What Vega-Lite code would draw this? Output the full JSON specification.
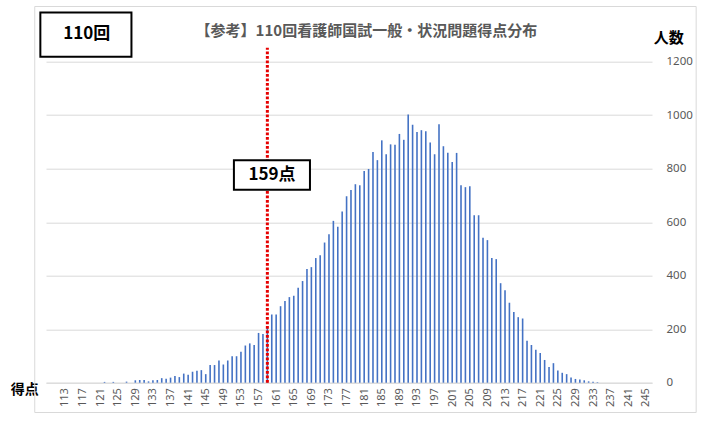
{
  "$schema": "https://vega.github.io/schema/vega-lite/v6.json",
  "width": 606,
  "height": 321,
  "autosize": "none",
  "padding": {"left": 46, "top": 61.7, "right": 63, "bottom": 41.3},
  "background": "white",
  "config": {
    "view": {"stroke": null},
    "font": "Noto Sans CJK JP",
    "axisX": {"labelOverlap": false, "labelFlush": false}
  },
  "data": {"values": [
    {"score":113,"count":0},{"score":114,"count":0},{"score":115,"count":0},{"score":116,"count":0},{"score":117,"count":0},
    {"score":118,"count":0},{"score":119,"count":0},{"score":120,"count":0},{"score":121,"count":0},{"score":122,"count":3},
    {"score":123,"count":0},{"score":124,"count":3},{"score":125,"count":0},{"score":126,"count":0},{"score":127,"count":4},
    {"score":128,"count":0},{"score":129,"count":9},{"score":130,"count":10},{"score":131,"count":10},{"score":132,"count":5},
    {"score":133,"count":9},{"score":134,"count":10},{"score":135,"count":17},{"score":136,"count":15},{"score":137,"count":19},
    {"score":138,"count":25},{"score":139,"count":21},{"score":140,"count":34},{"score":141,"count":30},{"score":142,"count":41},
    {"score":143,"count":45},{"score":144,"count":47},{"score":145,"count":32},{"score":146,"count":66},{"score":147,"count":66},
    {"score":148,"count":83},{"score":149,"count":68},{"score":150,"count":83},{"score":151,"count":99},{"score":152,"count":99},
    {"score":153,"count":116},{"score":154,"count":139},{"score":155,"count":147},{"score":156,"count":141},{"score":157,"count":186},
    {"score":158,"count":182},{"score":159,"count":210},{"score":160,"count":255},{"score":161,"count":255},{"score":162,"count":286},
    {"score":163,"count":305},{"score":164,"count":320},{"score":165,"count":325},{"score":166,"count":355},{"score":167,"count":380},
    {"score":168,"count":425},{"score":169,"count":432},{"score":170,"count":466},{"score":171,"count":476},{"score":172,"count":524},
    {"score":173,"count":555},{"score":174,"count":605},{"score":175,"count":583},{"score":176,"count":640},{"score":177,"count":697},
    {"score":178,"count":720},{"score":179,"count":742},{"score":180,"count":738},{"score":181,"count":791},{"score":182,"count":799},
    {"score":183,"count":862},{"score":184,"count":832},{"score":185,"count":906},{"score":186,"count":854},{"score":187,"count":891},
    {"score":188,"count":890},{"score":189,"count":930},{"score":190,"count":908},{"score":191,"count":1003},{"score":192,"count":964},
    {"score":193,"count":937},{"score":194,"count":944},{"score":195,"count":940},{"score":196,"count":898},{"score":197,"count":854},
    {"score":198,"count":966},{"score":199,"count":884},{"score":200,"count":860},{"score":201,"count":825},{"score":202,"count":859},
    {"score":203,"count":738},{"score":204,"count":731},{"score":205,"count":734},{"score":206,"count":626},{"score":207,"count":626},
    {"score":208,"count":542},{"score":209,"count":533},{"score":210,"count":466},{"score":211,"count":462},{"score":212,"count":372},
    {"score":213,"count":346},{"score":214,"count":299},{"score":215,"count":264},{"score":216,"count":245},{"score":217,"count":240},
    {"score":218,"count":157},{"score":219,"count":141},{"score":220,"count":123},{"score":221,"count":111},{"score":222,"count":85},
    {"score":223,"count":59},{"score":224,"count":73},{"score":225,"count":46},{"score":226,"count":37},{"score":227,"count":32},
    {"score":228,"count":19},{"score":229,"count":14},{"score":230,"count":12},{"score":231,"count":9},{"score":232,"count":5},
    {"score":233,"count":4},{"score":234,"count":2},{"score":235,"count":0},{"score":236,"count":0},{"score":237,"count":0},
    {"score":238,"count":0},{"score":239,"count":0},{"score":240,"count":0},{"score":241,"count":0},{"score":242,"count":0},
    {"score":243,"count":0},{"score":244,"count":0},{"score":245,"count":0}
  ]},
  "layer": [
    {
      "mark": {"type": "bar", "size": 1.6, "color": "#4472C4"},
      "encoding": {
        "x": {
          "field": "score", "type": "quantitative",
          "scale": {"domain": [109.84, 245.26], "nice": false, "zero": false},
          "axis": {
            "values": [113,117,121,125,129,133,137,141,145,149,153,157,161,165,169,173,177,181,185,189,193,197,201,205,209,213,217,221,225,229,233,237,241,245],
            "tickCount": 200,
            "format": "d", "labelAngle": -90, "labelPadding": 5, "ticks": false,
            "grid": false, "domainColor": "#D9D9D9", "domainWidth": 1,
            "labelColor": "#595959", "labelFontSize": 11, "labelFont": "Noto Sans",
            "labelOverlap": false, "labelFlush": false, "labelBound": false,
            "title": "得点", "titleAngle": 0, "titleAlign": "center", "titleBaseline": "middle",
            "titleX": -21.8, "titleY": 6.5, "titleFontSize": 14, "titleFontWeight": "bold",
            "titleColor": "#000000", "titleFont": "Noto Sans CJK JP"
          }
        },
        "y": {
          "field": "count", "type": "quantitative",
          "scale": {"domain": [0, 1200], "nice": false},
          "axis": {
            "orient": "right", "values": [0,200,400,600,800,1000,1200], "format": "d",
            "ticks": false, "domain": false, "grid": true, "gridColor": "#D9D9D9", "gridWidth": 1,
            "labelPadding": 14, "labelColor": "#595959", "labelFontSize": 11.5, "labelFont": "Noto Sans",
            "title": "人数", "titleAngle": 0, "titleAlign": "center", "titleBaseline": "middle",
            "titleX": 16.3, "titleY": -24.7, "titleFontSize": 15, "titleFontWeight": "bold",
            "titleColor": "#000000", "titleFont": "Noto Sans CJK JP"
          }
        }
      }
    },
    {
      "data": {"values": [{"part": "frame"}]},
      "mark": {"type": "rect", "fill": null, "stroke": "#D9D9D9", "strokeWidth": 1},
      "encoding": {
        "x": {"datum": 106.15, "type": "quantitative"},
        "x2": {"datum": 256.43},
        "y": {"datum": 1406.4, "type": "quantitative"},
        "y2": {"datum": -111.4}
      }
    },
    {
      "data": {"values": [{"line": 159}]},
      "mark": {"type": "rule", "color": "#E60000", "strokeWidth": 3, "strokeDash": [2.7, 1.8]},
      "encoding": {
        "x": {"field": "line", "type": "quantitative"},
        "y": {"datum": 0, "type": "quantitative"},
        "y2": {"datum": 1252}
      }
    },
    {
      "data": {"values": [{"label": "159点"}]},
      "mark": {"type": "rect", "fill": "white", "stroke": "#000000", "strokeWidth": 2},
      "encoding": {
        "x": {"datum": 151.4, "type": "quantitative"},
        "x2": {"datum": 168.68},
        "y": {"datum": 831.8, "type": "quantitative"},
        "y2": {"datum": 721.1}
      }
    },
    {
      "data": {"values": [{"label": "159点"}]},
      "mark": {"type": "text", "font": "Noto Sans CJK JP", "fontSize": 17, "fontWeight": "bold", "color": "#000000", "align": "center", "baseline": "middle"},
      "encoding": {
        "x": {"datum": 160.07, "type": "quantitative"},
        "y": {"datum": 777.6, "type": "quantitative"},
        "text": {"field": "label"}
      }
    },
    {
      "data": {"values": [{"label": "110回"}]},
      "mark": {"type": "rect", "fill": "white", "stroke": "#000000", "strokeWidth": 2},
      "encoding": {
        "x": {"datum": 107.42, "type": "quantitative"},
        "x2": {"datum": 128.12},
        "y": {"datum": 1383.9, "type": "quantitative"},
        "y2": {"datum": 1218.3}
      }
    },
    {
      "data": {"values": [{"label": "110回"}]},
      "mark": {"type": "text", "font": "Noto Sans CJK JP", "fontSize": 17, "fontWeight": "bold", "color": "#000000", "align": "center", "baseline": "middle"},
      "encoding": {
        "x": {"datum": 117.95, "type": "quantitative"},
        "y": {"datum": 1304.7, "type": "quantitative"},
        "text": {"field": "label"}
      }
    },
    {
      "data": {"values": [{"title": "【参考】110回看護師国試一般・状況問題得点分布"}]},
      "mark": {"type": "text", "font": "Noto Sans CJK JP", "fontSize": 15, "fontWeight": "bold", "color": "#595959", "align": "center", "baseline": "middle"},
      "encoding": {
        "x": {"datum": 181.5, "type": "quantitative"},
        "y": {"datum": 1315.4, "type": "quantitative"},
        "text": {"field": "title"}
      }
    }
  ]
}
